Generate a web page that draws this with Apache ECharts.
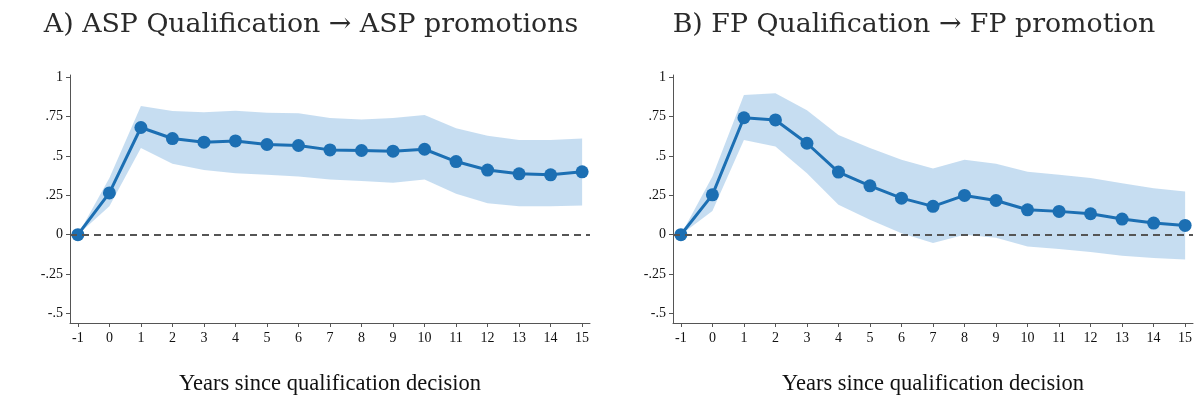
<!DOCTYPE html>
<html><head><meta charset="utf-8">
<script src="https://cdn.jsdelivr.net/npm/echarts@6/dist/echarts.min.js"></script>
<style>html,body{margin:0;padding:0;background:#fff}#c{width:1198px;height:402px}</style>
</head><body><div id="c"></div>
<script>
const years = [-1,0,1,2,3,4,5,6,7,8,9,10,11,12,13,14,15];
const xTicks = years;
const yTicks = [-0.5,-0.25,0,0.25,0.5,0.75,1];
const yTickLabels = {'-0.5':'-.5','-0.25':'-.25','0':'0','0.25':'.25','0.5':'.5','0.75':'.75','1':'1'};
const titleA = 'A) ASP Qualification \u2192 ASP promotions';
const titleB = 'B) FP Qualification \u2192 FP promotion';
const xName = 'Years since qualification decision';

const aEst = [0,0.265,0.68,0.61,0.587,0.595,0.572,0.566,0.538,0.534,0.53,0.542,0.464,0.41,0.386,0.38,0.399];
const aLow = [0,0.18,0.55,0.45,0.41,0.39,0.38,0.37,0.35,0.34,0.33,0.35,0.26,0.2,0.18,0.18,0.185];
const aHigh = [0,0.36,0.816,0.785,0.777,0.787,0.774,0.77,0.74,0.73,0.74,0.76,0.675,0.627,0.6,0.6,0.61];

const bEst = [0,0.253,0.742,0.728,0.58,0.397,0.31,0.232,0.18,0.249,0.217,0.158,0.148,0.133,0.099,0.074,0.059];
const bLow = [0,0.15,0.6,0.56,0.39,0.19,0.095,0.01,-0.053,0,-0.02,-0.074,-0.09,-0.11,-0.133,-0.148,-0.158];
const bHigh = [0,0.37,0.886,0.897,0.79,0.633,0.55,0.475,0.42,0.475,0.45,0.4,0.38,0.36,0.327,0.295,0.274];

const lineColor = '#1c6fb3';
const bandColor = 'rgba(120,175,222,0.42)';
const axisColor = '#555';
const serif = 'Liberation Serif';
const titleFont = 'DejaVu Serif';

function pairs(xs, ys){ return xs.map((x,i)=>[x,ys[i]]); }

function panelAxes(i){
  return {
    x: {type:'value', gridIndex:i, min:-1.25, max:15.25,
        axisLine:{show:true,onZero:false,lineStyle:{color:axisColor,width:1}},
        axisTick:{show:true,length:4,customValues:xTicks,lineStyle:{color:axisColor}},
        axisLabel:{customValues:xTicks,color:'#111',fontFamily:serif,fontSize:14,margin:8},
        splitLine:{show:false},
        name:xName,nameLocation:'middle',nameGap:50,
        nameTextStyle:{fontFamily:serif,fontSize:22.5,color:'#111'}},
    y: {type:'value', gridIndex:i, min:-0.56, max:1.013,
        axisLine:{show:true,onZero:false,lineStyle:{color:axisColor,width:1}},
        axisTick:{show:true,length:4,customValues:yTicks,lineStyle:{color:axisColor}},
        axisLabel:{customValues:yTicks,color:'#111',fontFamily:serif,fontSize:14,margin:7,
          formatter:v=>{const k=String(Math.round(v*100)/100);return yTickLabels[k]!==undefined?yTickLabels[k]:k;}},
        splitLine:{show:false}}
  };
}

function bandSeries(i, low, high){
  const rows = years.map((x,j)=>[x,low[j],high[j]]);
  return {type:'custom', xAxisIndex:i, yAxisIndex:i, data:rows, silent:true, z:1,
    encode:{x:0,y:[1,2]},
    renderItem:(params, api)=>{
      if (params.dataIndex !== 0) return null;
      const up = rows.map(r=>api.coord([r[0],r[2]]));
      const dn = rows.map(r=>api.coord([r[0],r[1]])).reverse();
      return {type:'polygon', shape:{points:up.concat(dn)}, style:{fill:bandColor}};
    }};
}

function panelSeries(i, est, low, high){
  return [
    bandSeries(i, low, high),
    {type:'line', xAxisIndex:i, yAxisIndex:i, data:pairs(years,est), symbol:'circle', symbolSize:13,
     lineStyle:{color:lineColor,width:3}, itemStyle:{color:lineColor}, z:3,
     markLine:{silent:true,symbol:'none',label:{show:false},animation:false,
       lineStyle:{color:'#555',type:[7,5],width:1.8},data:[{yAxis:0}]}}
  ];
}

const A = panelAxes(0), B = panelAxes(1);
const chart = echarts.init(document.getElementById('c'), null, {renderer:'canvas'});
chart.setOption({
  backgroundColor:'#ffffff',
  animation:false,
  title:[
    {text:titleA,left:306,top:7,textAlign:'center',textStyle:{fontFamily:titleFont,fontSize:26.8,fontWeight:'normal',color:'#2a2a2a'}},
    {text:titleB,left:909,top:7,textAlign:'center',textStyle:{fontFamily:titleFont,fontSize:26.8,fontWeight:'normal',color:'#2a2a2a'}}
  ],
  grid:[
    {left:70,top:75,width:520,height:248},
    {left:673,top:75,width:520,height:248}
  ],
  xAxis:[A.x,B.x],
  yAxis:[A.y,B.y],
  series:[...panelSeries(0,aEst,aLow,aHigh),...panelSeries(1,bEst,bLow,bHigh)]
});
</script></body></html>
